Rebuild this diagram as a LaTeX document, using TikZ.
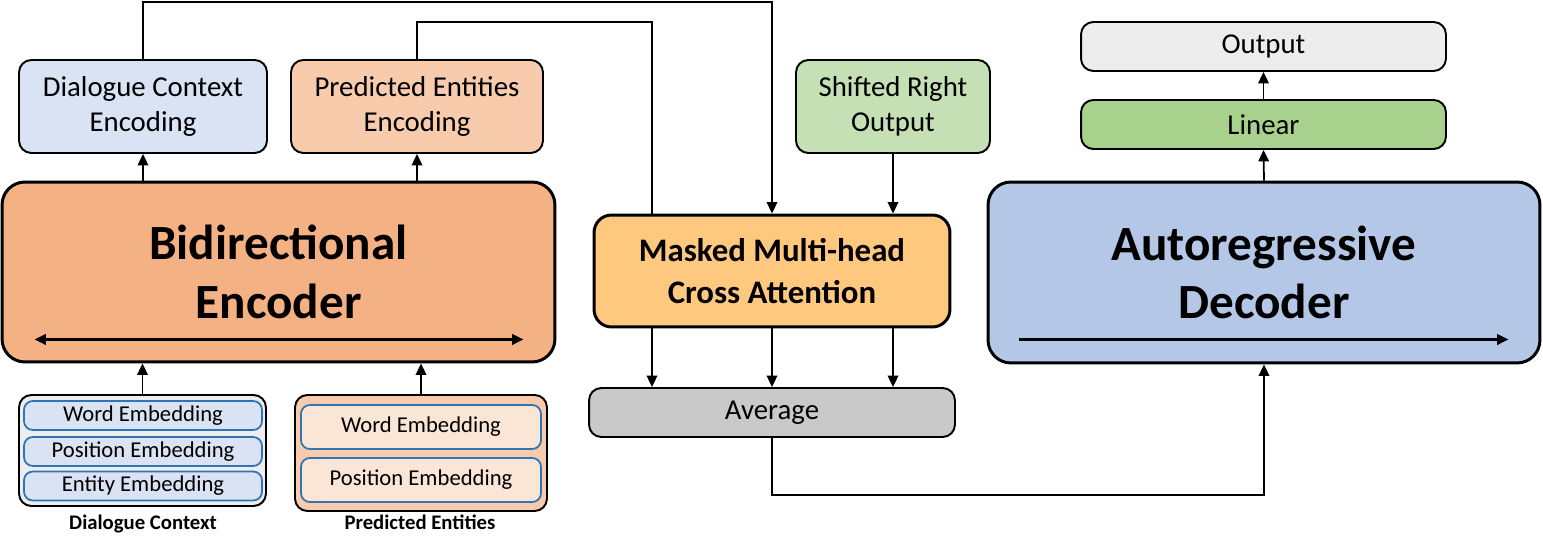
\documentclass[tikz,border=0pt]{standalone}
\usepackage{fontspec}
\setmainfont{Carlito}
\usepackage{xcolor}
\usepackage{tikz}
\usetikzlibrary{arrows.meta, positioning, calc}

\definecolor{ctxblue}{HTML}{DAE3F3}
\definecolor{entorange}{HTML}{F8CBAD}
\definecolor{shiftgreen}{HTML}{C5E0B4}
\definecolor{outgray}{HTML}{EDEDED}
\definecolor{lingreen}{HTML}{A9D18E}
\definecolor{encorange}{HTML}{F4B183}
\definecolor{attnorange}{HTML}{FFC87F}
\definecolor{avggray}{HTML}{C9C9C9}
\definecolor{decblue}{HTML}{B4C7E7}
\definecolor{embline}{HTML}{2E75B6}
\definecolor{embpeach}{HTML}{FBE5D6}

\begin{document}
\begin{tikzpicture}[x=0.02cm, y=-0.02cm, >={Triangle[length=6.5pt,width=6pt]},
  box/.style={draw, line width=1.1pt, rounded corners=7pt, align=center, inner sep=0pt,
    font=\fontsize{16.4}{19.8}\selectfont},
  bigbox/.style={draw, line width=1.7pt, rounded corners=13pt, align=center, inner sep=0pt,
    font=\fontsize{28}{33.4}\selectfont\bfseries},
  embbox/.style={draw=embline, line width=1pt, rounded corners=5pt, inner sep=0pt,
    font=\fontsize{12.9}{15}\selectfont},
  caption/.style={font=\fontsize{11.8}{14}\selectfont\bfseries, text height=9pt, text depth=2.5pt},
  conn/.style={line width=1pt}]
  \useasboundingbox (0,0) rectangle (1543,550);
  % Encodings and inputs on top
  \node[box, fill=ctxblue, minimum width=4.96cm, minimum height=1.86cm] (ctxenc) at (143,106.5) {Dialogue Context\\Encoding};
  \node[box, fill=entorange, minimum width=5.04cm, minimum height=1.86cm] (entenc) at (417,106.5) {Predicted Entities\\Encoding};
  \node[box, fill=shiftgreen, minimum width=3.88cm, minimum height=1.86cm] (shifted) at (893,106.5) {Shifted Right\\Output};
  \node[box, fill=outgray, minimum width=7.3cm, minimum height=0.98cm] (output) at (1263.5,46.5) {Output};
  \node[box, fill=lingreen, minimum width=7.3cm, minimum height=0.98cm] (linear) at (1263.5,124.5) {Linear};
  % Main blocks
  \node[bigbox, fill=encorange, minimum width=11.06cm, minimum height=3.6cm] (encoder) at (278.5,272) {Bidirectional\\Encoder};
  \node[bigbox, fill=attnorange, rounded corners=10pt, minimum width=7.12cm, minimum height=2.24cm,
    font=\fontsize{18.7}{23.8}\selectfont\bfseries] (attn) at (772,271) {Masked Multi-head\\Cross Attention};
  \node[box, fill=avggray, minimum width=7.32cm, minimum height=0.98cm] (average) at (772,412.5) {Average};
  \node[bigbox, fill=decblue, minimum width=11.04cm, minimum height=3.62cm] (decoder) at (1264,272.5) {Autoregressive\\Decoder};
  % Embedding stacks
  \node[box, fill=outgray, minimum width=4.94cm, minimum height=2.22cm] (ctxemb) at (142.5,450.5) {};
  \node[embbox, fill=ctxblue, minimum width=4.76cm, minimum height=0.58cm] (ctxword) at (143,415.5) {Word Embedding};
  \node[embbox, fill=ctxblue, minimum width=4.76cm, minimum height=0.58cm] (ctxpos) at (143,451.5) {Position Embedding};
  \node[embbox, fill=ctxblue, minimum width=4.76cm, minimum height=0.58cm] (ctxent) at (143,486) {Entity Embedding};
  \node[box, fill=entorange, minimum width=5.04cm, minimum height=2.32cm] (entemb) at (421,453) {};
  \node[embbox, fill=embpeach, minimum width=4.8cm, minimum height=0.88cm] (entword) at (421,427) {Word Embedding};
  \node[embbox, fill=embpeach, minimum width=4.8cm, minimum height=0.88cm] (entpos) at (421,480) {Position Embedding};
  \node[caption] (ctxlabel) at (143,524) {Dialogue Context};
  \node[caption] (entlabel) at (420,524) {Predicted Entities};
  % Direction arrows inside the blocks
  \draw[line width=1.4pt, <->] ([shift={(34,-24)}]encoder.south west) -- ([shift={(-33,-24)}]encoder.south east);
  \draw[line width=1.4pt, ->] ([shift={(32,-25)}]decoder.south west) -- ([shift={(-33,-25)}]decoder.south east);
  % Connectors
  \coordinate (topline) at (772,2);
  \coordinate (midline) at (652,22);
  \coordinate (botline) at (772,495);
  \draw[conn, ->] (ctxemb.north) -- (ctxemb.north |- encoder.south);
  \draw[conn, ->] (entemb.north) -- (entemb.north |- encoder.south);
  \draw[conn, ->] (ctxenc.south |- encoder.north) -- (ctxenc.south);
  \draw[conn, ->] (entenc.south |- encoder.north) -- (entenc.south);
  \draw[conn, ->] (ctxenc.north) |- (topline) -- (attn.north);
  \draw[conn] (entenc.north) |- (midline) -- (midline |- attn.north);
  \draw[conn, ->] (shifted.south) -- (shifted.south |- attn.north);
  \draw[conn, ->] (midline |- attn.south) -- (midline |- average.north);
  \draw[conn, ->] (attn.south) -- (average.north);
  \draw[conn, ->] (shifted.south |- attn.south) -- (shifted.south |- average.north);
  \draw[conn, ->] (average.south) |- (decoder.south |- botline) -- (decoder.south);
  \draw[conn, ->] (decoder.north) -- (linear.south);
  \draw[conn, ->] (linear.north) -- (output.south);
\end{tikzpicture}
\end{document}
